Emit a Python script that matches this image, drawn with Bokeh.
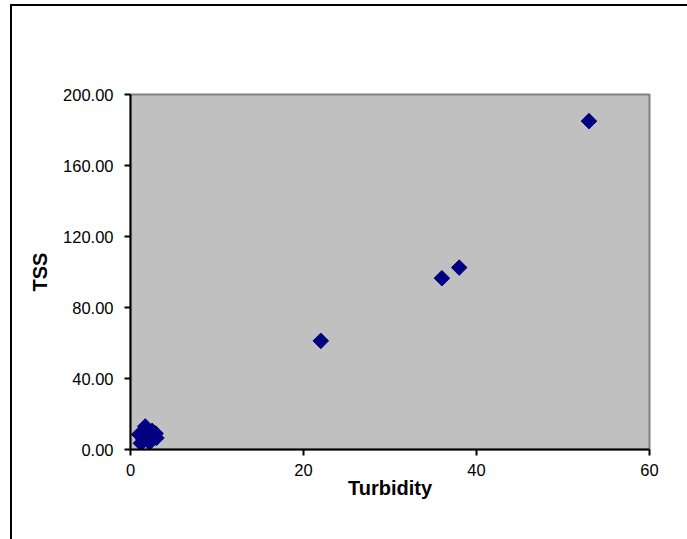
from bokeh.plotting import figure
from bokeh.models import FixedTicker, NumeralTickFormatter, Range1d, InlineStyleSheet
from bokeh.embed import file_html
from bokeh.resources import INLINE
import math

turbidity = [53, 36, 38, 22, 1.2, 1.0, 1.7, 2.0, 2.5, 2.9, 3.0, 2.2, 1.5]
tss = [185, 96.5, 102.5, 61.2, 3.5, 8.5, 13, 6, 10.5, 9, 6.5, 4, 5.5]
x_ticks = [0, 20, 40, 60]
y_ticks = [0, 40, 80, 120, 160, 200]

border_css = InlineStyleSheet(css=""":host::after {
  content: ""; position: absolute; left: 10px; top: 4px; width: 700px; height: 560px;
  border: 2px solid black; pointer-events: none; box-sizing: border-box;
}
:host { overflow: visible; }""")

p = figure(width=687, height=539, output_backend="svg", toolbar_location=None,
           x_range=Range1d(0, 60), y_range=Range1d(0, 200),
           min_border_left=130, min_border_right=38, min_border_top=94, min_border_bottom=90,
           background_fill_color="#C0C0C0", border_fill_color="white",
           stylesheets=[border_css])
p.frame_width = 519
p.frame_height = 355

p.scatter(turbidity, tss, marker="square", size=11, angle=math.pi / 4,
          fill_color="#000080", line_color="#000080")

p.grid.visible = False
p.outline_line_color = "#808080"
p.outline_line_width = 2

for ax in (p.xaxis, p.yaxis):
    ax.axis_line_color = "black"
    ax.axis_line_width = 2
    ax.major_tick_line_color = "black"
    ax.major_tick_line_width = 2
    ax.major_tick_out = 6
    ax.major_tick_in = 0
    ax.minor_tick_line_color = None
    ax.major_label_text_font = "Liberation Sans"
    ax.major_label_text_font_size = "16.5px"
    ax.major_label_text_color = "black"
    ax.axis_label_text_font = "Liberation Sans"
    ax.axis_label_text_font_size = "20px"
    ax.axis_label_text_font_style = "bold"
    ax.axis_label_text_color = "black"

p.xaxis.ticker = FixedTicker(ticks=x_ticks)
p.yaxis.ticker = FixedTicker(ticks=y_ticks)
p.yaxis.formatter = NumeralTickFormatter(format="0.00")
p.xaxis.axis_label = "Turbidity"
p.yaxis.axis_label = "TSS"
p.xaxis.major_label_standoff = 8
p.yaxis.major_label_standoff = 11
p.xaxis.axis_label_standoff = -2
p.yaxis.axis_label_standoff = 9

open("out.html", "w").write(file_html(p, INLINE))
